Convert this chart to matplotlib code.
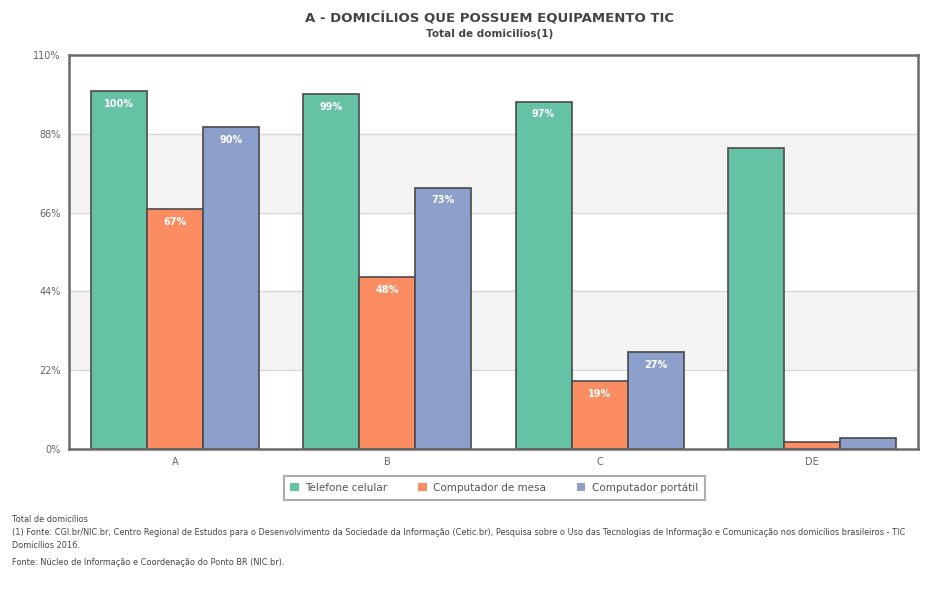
import matplotlib.pyplot as plt
import numpy as np
from matplotlib.patches import Patch

categories = ["A", "B", "C", "DE"]
series_names = ["Telefone celular", "Computador de mesa", "Computador portátil"]
celular = [100, 99, 97, 84]
mesa = [67, 48, 19, 2]
portatil = [90, 73, 27, 3]
show_label = [True, True, True, False]
yticks = [0, 22, 44, 66, 88, 110]

colors = ["#66c2a5", "#fc8d62", "#8da0cb"]
edge = "#4a4a4a"
txt = "#555555"


def main():
    fig = plt.figure(figsize=(9.27, 5.91), dpi=100)
    ax = fig.add_axes([0.0744, 0.2403, 0.9159, 0.6666])

    x = np.arange(len(categories))
    w = 0.264
    # alternating light bands
    for i in range(len(yticks) - 1):
        if i % 2 == 1:
            ax.axhspan(yticks[i], yticks[i + 1], color="#f4f4f4", zorder=0)
    for t in yticks[1:-1]:
        ax.axhline(t, color="#d8d8d8", lw=1, zorder=1)

    data = [celular, mesa, portatil]
    for k, vals in enumerate(data):
        pos = x + (k - 1) * w
        ax.bar(pos, vals, width=w, color=colors[k], edgecolor=edge, linewidth=1.2, zorder=2)
        for p, v, s in zip(pos, vals, show_label):
            if s:
                ax.text(p, v - 2.2, f"{v}%", ha="center", va="top", color="white",
                        fontsize=7, fontweight="bold", zorder=3)

    ax.set_xlim(-0.5, len(categories) - 0.5)
    ax.set_ylim(0, 110)
    ax.set_yticks(yticks)
    ax.set_yticklabels([f"{t}%" for t in yticks])
    ax.set_xticks(x)
    ax.set_xticklabels(categories)
    ax.tick_params(axis="both", length=0, labelsize=7, colors="#666666", pad=6)
    for sp in ax.spines.values():
        sp.set_color("#6a6a6a")
        sp.set_linewidth(1.8)

    fig.text(0.528, 0.968, "A - DOMICÍLIOS QUE POSSUEM EQUIPAMENTO TIC", ha="center",
             va="center", fontsize=9.5, fontweight="bold", color="#444444")
    fig.text(0.528, 0.943, "Total de domicilios(1)", ha="center", va="center",
             fontsize=7.5, fontweight="bold", color="#444444")

    handles = [Patch(facecolor=c, edgecolor="none") for c in colors]
    leg = fig.legend(handles, series_names, loc="center", bbox_to_anchor=(0.533, 0.175),
                     ncol=3, fontsize=7.5, frameon=True, fancybox=False,
                     handlelength=0.8, handleheight=0.8, columnspacing=3.0,
                     borderpad=0.65, handletextpad=0.6, borderaxespad=0.0)
    leg.get_frame().set_edgecolor("#999999")
    leg.get_frame().set_linewidth(1.5)
    for t in leg.get_texts():
        t.set_color(txt)

    notes = [
        (0.121, "Total de domicílios"),
        (0.099, "(1) Fonte: CGI.br/NIC.br, Centro Regional de Estudos para o Desenvolvimento da Sociedade da Informação (Cetic.br), "
                "Pesquisa sobre o Uso das Tecnologias de Informação e Comunicação nos domicílios brasileiros - TIC"),
        (0.077, "Domicílios 2016."),
        (0.048, "Fonte: Núcleo de Informação e Coordenação do Ponto BR (NIC.br)."),
    ]
    for y, s in notes:
        fig.text(0.013, y, s, ha="left", va="center", fontsize=5.9, color="#444444")

    fig.savefig("out.png", dpi=100)


if __name__ == "__main__":
    main()
